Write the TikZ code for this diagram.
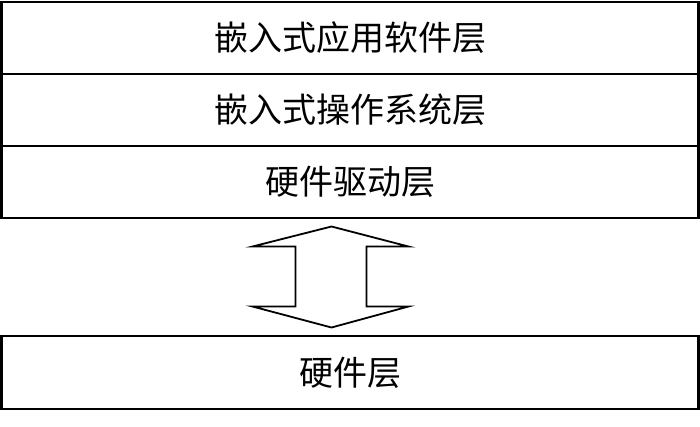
\documentclass[tikz,border=0pt]{standalone}
\usepackage{fontspec}
\setmainfont{Noto Sans CJK SC}
\usetikzlibrary{positioning,calc}
\tikzset{layer/.style={draw,line width=2.6pt,minimum width=697pt,minimum height=72pt,outer sep=0pt,inner sep=0pt,font=\fontsize{34pt}{34pt}\selectfont}}

\begin{document}
\begin{tikzpicture}[x=1pt,y=-1pt]
\useasboundingbox (0,0) rectangle (700,426);
\node[layer] (app) at (350,38) {嵌入式应用软件层};
\node[layer,below=0pt of app] (os) {嵌入式操作系统层};
\node[layer,below=0pt of os] (drv) {硬件驱动层};
\node[layer,minimum height=73pt] (hw) at (350,372.5) {硬件层};
\coordinate (mid) at ($(drv.south)!0.5!(hw.north)+(-18.5,0)$);
\draw[line width=1.8pt,line join=miter] ($(mid)+(0,-50.5)$) -- ++(77,20) -- ++(-42,0) -- ++(0,60) -- ++(42,0)
  -- ($(mid)+(0,50.5)$) -- ++(-79,-21) -- ++(43,0) -- ++(0,-60) -- ++(-43,0) -- cycle;
\end{tikzpicture}
\end{document}
